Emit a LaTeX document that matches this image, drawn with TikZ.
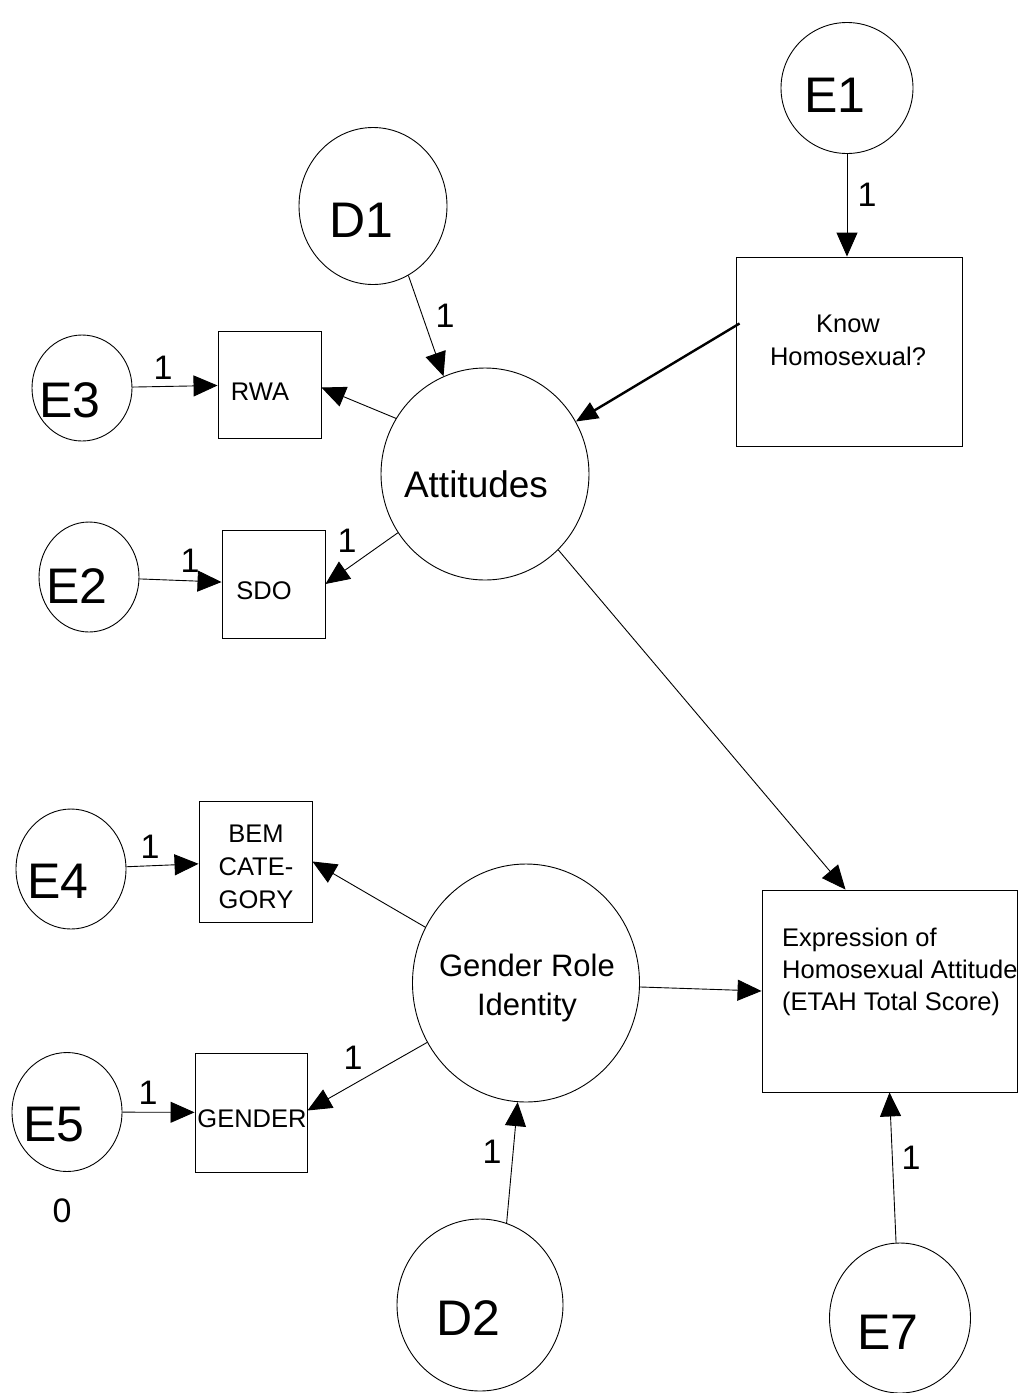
\documentclass[tikz,border=0pt]{standalone}
\usepackage{fontspec}
\setmainfont{Liberation Sans}
\usetikzlibrary{shapes.geometric,arrows.meta}
\begin{document}
\begin{tikzpicture}[x=1pt,y=-1pt,
  lat/.style={draw, ellipse, inner sep=0pt, line width=0.9pt},
  obs/.style={draw, rectangle, inner sep=0pt, line width=0.9pt},
  bigtxt/.style={font=\fontsize{50}{54}\selectfont, inner sep=0pt},
  midtxt/.style={font=\fontsize{37}{40}\selectfont, inner sep=0pt},
  grtxt/.style={font=\fontsize{31}{39}\selectfont, inner sep=0pt, align=center},
  smtxt/.style={font=\fontsize{25.5}{33}\selectfont, inner sep=0pt, align=center},
  onetxt/.style={font=\fontsize{34}{36}\selectfont, inner sep=0pt},
  arr/.style={line width=0.9pt, -{Triangle[length=24pt,width=21pt]}},
  thickarr/.style={line width=2.4pt, -{Triangle[length=22pt,width=18pt]}}
]
\useasboundingbox (0,0) rectangle (1029,1393);

% latent / error circles
\node[lat, minimum width=132pt, minimum height=131pt] (e1) at (847,88) {};
\node[bigtxt] (e1t) at (835,95) {E1};
\node[lat, minimum width=148pt, minimum height=157pt] (d1) at (373,206) {};
\node[bigtxt] (d1t) at (361,220) {D1};
\node[lat, minimum width=100pt, minimum height=106pt] (e3) at (82,388) {};
\node[bigtxt] (e3t) at (70,400) {E3};
\node[lat, minimum width=100pt, minimum height=110pt] (e2) at (89,577) {};
\node[bigtxt] (e2t) at (77,586) {E2};
\node[lat, minimum width=208pt, minimum height=212pt] (att) at (485,474) {};
\node[midtxt] (attt) at (476,484) {Attitudes};
\node[lat, minimum width=110pt, minimum height=120pt] (e4) at (71,869) {};
\node[bigtxt] (e4t) at (58,881) {E4};
\node[lat, minimum width=110pt, minimum height=119pt] (e5) at (67,1112) {};
\node[bigtxt] (e5t) at (54,1125) {E5};
\node[lat, minimum width=227pt, minimum height=238pt] (gen) at (526,983) {};
\node[grtxt] (gent) at (527,988) {Gender Role\\Identity};
\node[lat, minimum width=166pt, minimum height=172pt] (d2) at (480,1305) {};
\node[bigtxt] (d2t) at (468,1318) {D2};
\node[lat, minimum width=141pt, minimum height=150pt] (e7) at (900,1318) {};
\node[bigtxt] (e7t) at (888,1332) {E7};

% observed boxes
\node[obs, minimum width=226pt, minimum height=189pt] (know) at (849,351.5) {};
\node[smtxt] (knowt) at (848,340) {Know\\Homosexual?};
\node[obs, minimum width=103pt, minimum height=107pt] (rwa) at (269.5,384.5) {};
\node[smtxt] (rwat) at (260,392) {RWA};
\node[obs, minimum width=103pt, minimum height=108pt] (sdo) at (273.5,584) {};
\node[smtxt] (sdot) at (264,591) {SDO};
\node[obs, minimum width=113pt, minimum height=121pt] (bem) at (255.5,861.5) {};
\node[smtxt] (bemt) at (256,867) {BEM\\CATE-\\GORY};
\node[obs, minimum width=112pt, minimum height=119pt] (gnd) at (251,1112.5) {};
\node[smtxt] (gndt) at (252,1119) {GENDER};
\node[obs, minimum width=255pt, minimum height=202pt] (exp) at (889.5,991) {};
\node[smtxt, align=left, anchor=west, font=\fontsize{25.5}{32}\selectfont] (expt) at (782,972) {Expression of\\Homosexual Attitude\\(ETAH Total Score)};

% connectors
\draw[arr] (e1) -- (e1 |- know.north);
\draw[arr] (d1.-63) -- (att.113);
\draw[thickarr] ([xshift=4pt,yshift=28pt]know.west) -- (att.30);
\draw[arr] (att.148) -- ([yshift=-3pt]rwa.east);
\draw[arr] (att.214) -- (sdo.east);
\draw[arr] (e3) -- (rwa);
\draw[arr] (e2) -- (sdo);
\draw[arr] (att.-46.5) -- ([xshift=-44pt]exp.north);
\draw[arr] (e4) -- (bem);
\draw[arr] (gen.151) -- (bem.east);
\draw[arr] (gen.211) -- ([yshift=2pt]gnd.east);
\draw[arr] (e5) -- (gnd);
\draw[arr] (gen.-2) -- (exp.west);
\draw[arr] (d2.72) -- (gen.-94);
\draw[arr] (e7.93) -- (exp.south);

% labels
\node[onetxt] (l1) at (867,195) {1};
\node[onetxt] (l2) at (445,316) {1};
\node[onetxt] (l3) at (163,368) {1};
\node[onetxt] (l4) at (347,541) {1};
\node[onetxt] (l5) at (190,561) {1};
\node[onetxt] (l6) at (150,847) {1};
\node[onetxt] (l7) at (353,1058) {1};
\node[onetxt] (l8) at (148,1093) {1};
\node[onetxt] (l9) at (492,1152) {1};
\node[onetxt] (l10) at (911,1158) {1};
\node[onetxt] (l0) at (62,1211) {0};
\end{tikzpicture}
\end{document}
